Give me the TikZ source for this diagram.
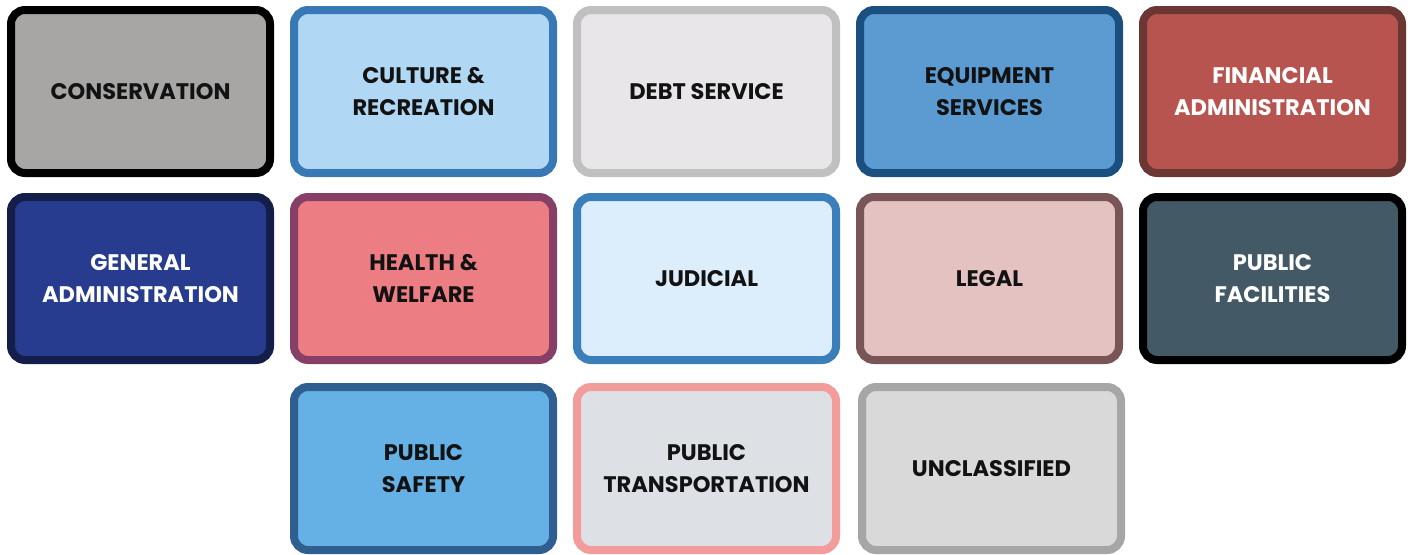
\documentclass[tikz,border=0pt]{standalone}
\usepackage{fontspec}
\setmainfont{Poppins}
\usepackage{tikz}
\usetikzlibrary{positioning}
\definecolor{consfill}{HTML}{A7A6A4}
\definecolor{cultfill}{HTML}{B0D8F5}
\definecolor{cultdraw}{HTML}{3878B4}
\definecolor{debtfill}{HTML}{E8E6E8}
\definecolor{debtdraw}{HTML}{C0C0C0}
\definecolor{equipfill}{HTML}{5B9BD2}
\definecolor{equipdraw}{HTML}{1B4F80}
\definecolor{finfill}{HTML}{B85450}
\definecolor{findraw}{HTML}{6C3733}
\definecolor{genfill}{HTML}{283C8F}
\definecolor{gendraw}{HTML}{141E4A}
\definecolor{healthfill}{HTML}{EC7E83}
\definecolor{healthdraw}{HTML}{873F68}
\definecolor{judfill}{HTML}{DCEDFB}
\definecolor{juddraw}{HTML}{3B7FBA}
\definecolor{legalfill}{HTML}{E4C2C1}
\definecolor{legaldraw}{HTML}{7A5558}
\definecolor{facfill}{HTML}{435966}
\definecolor{safefill}{HTML}{65B1E5}
\definecolor{safedraw}{HTML}{2E5F90}
\definecolor{transfill}{HTML}{DDE1E6}
\definecolor{transdraw}{HTML}{F29C9C}
\definecolor{unclfill}{HTML}{D9D9D9}
\definecolor{uncldraw}{HTML}{A6A6A6}
\tikzset{
  catbox/.style={rectangle, rounded corners=14pt, line width=8pt, outer sep=0pt,
                 minimum width=259pt, minimum height=163pt, align=center,
                 font=\fontsize{22.5}{32}\selectfont\bfseries, text=black!93},
  conscat/.style={draw=black, fill=consfill},
  cultcat/.style={draw=cultdraw, fill=cultfill},
  debtcat/.style={draw=debtdraw, fill=debtfill},
  equipcat/.style={draw=equipdraw, fill=equipfill},
  fincat/.style={draw=findraw, fill=finfill, text=white},
  gencat/.style={draw=gendraw, fill=genfill, text=white},
  healthcat/.style={draw=healthdraw, fill=healthfill},
  judcat/.style={draw=juddraw, fill=judfill},
  legalcat/.style={draw=legaldraw, fill=legalfill},
  faccat/.style={draw=black, fill=facfill, text=white},
  safecat/.style={draw=safedraw, fill=safefill},
  transcat/.style={draw=transdraw, fill=transfill},
  unclcat/.style={draw=uncldraw, fill=unclfill},
}
\begin{document}
\begin{tikzpicture}[node distance=24pt and 24pt]
\useasboundingbox (0,0) rectangle (1413pt,-554pt);
%Row 1
\node[catbox, conscat] (cons) at (140.5pt,-91.5pt) {CONSERVATION};
\node[catbox, cultcat] (cult) [right=of cons] {CULTURE \&\\RECREATION};
\node[catbox, debtcat] (debt) [right=of cult] {DEBT SERVICE};
\node[catbox, equipcat] (equip) [right=of debt] {EQUIPMENT\\SERVICES};
\node[catbox, fincat] (fin) [right=of equip] {FINANCIAL\\ADMINISTRATION};

%Row 2
\node[catbox, gencat] (gen) [below=of cons] {GENERAL\\ADMINISTRATION};
\node[catbox, healthcat] (health) [right=of gen] {HEALTH \&\\WELFARE};
\node[catbox, judcat] (jud) [right=of health] {JUDICIAL};
\node[catbox, legalcat] (legal) [right=of jud] {LEGAL};
\node[catbox, faccat] (fac) [right=of legal] {PUBLIC\\FACILITIES};

%Row 3
\node[catbox, safecat] (safe) [below=27pt of health] {PUBLIC\\SAFETY};
\node[catbox, transcat] (trans) [below=27pt of jud] {PUBLIC\\TRANSPORTATION};
\node[catbox, unclcat] (uncl) [below=27pt of legal, xshift=2pt] {UNCLASSIFIED};
\end{tikzpicture}
\end{document}
